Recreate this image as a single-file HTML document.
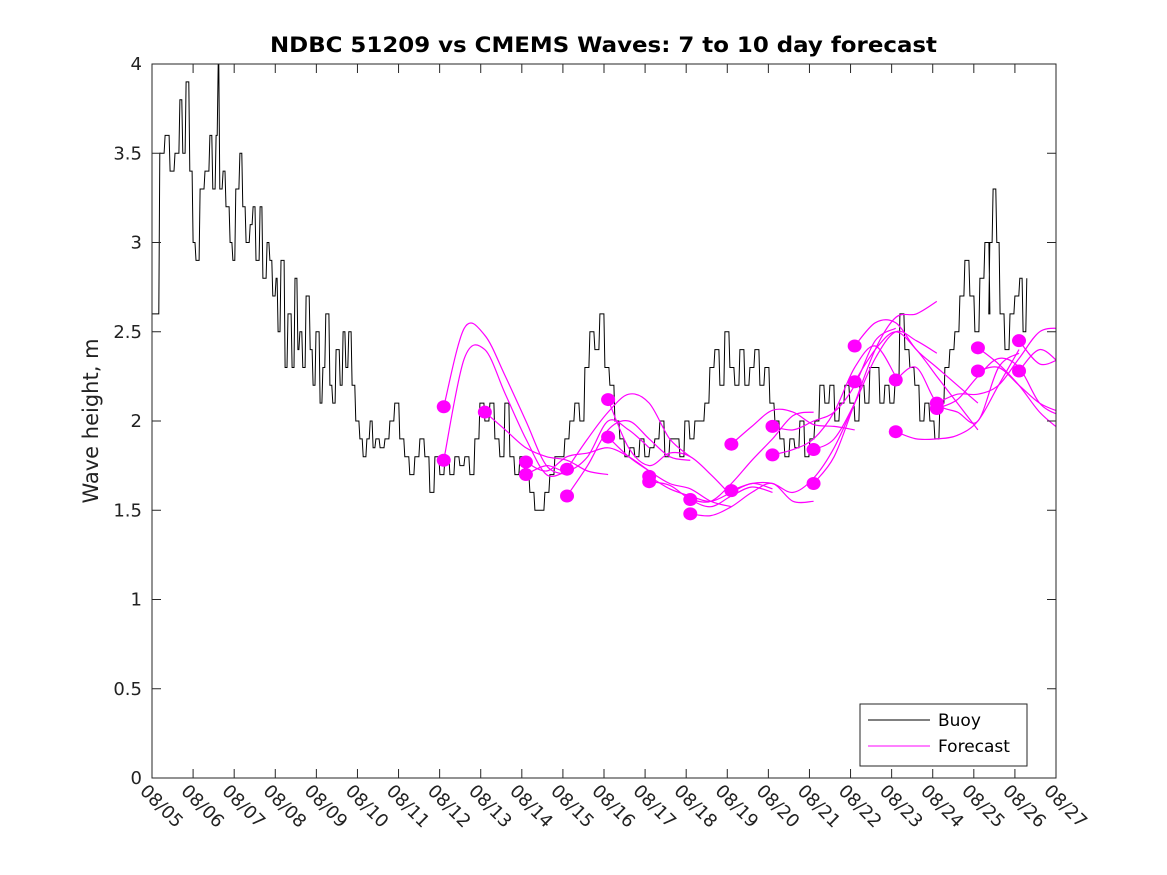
<!DOCTYPE html>
<html><head><meta charset="utf-8"><style>
html,body{margin:0;padding:0;background:#fff}
svg{display:block;font-family:"DejaVu Sans","Liberation Sans",sans-serif}
</style></head><body>
<svg id="chart" width="1167" height="875" viewBox="0 0 1167 875" xmlns="http://www.w3.org/2000/svg">
<rect x="0" y="0" width="1167" height="875" fill="#fff"/>
<text x="270" y="52" textLength="667" lengthAdjust="spacingAndGlyphs" font-size="21" font-weight="bold" fill="#000">NDBC 51209 vs CMEMS Waves: 7 to 10 day forecast</text>
<text transform="translate(98,421) rotate(-90)" text-anchor="middle" font-size="21" fill="#222">Wave height, m</text>
<defs><clipPath id="plotclip"><rect x="152" y="64" width="904" height="714"/></clipPath></defs>
<g id="series" clip-path="url(#plotclip)"></g>
<rect x="152" y="64" width="904" height="714" fill="none" stroke="#262626" stroke-width="1"/>
<g id="axes"></g>
<g>
<rect x="860" y="704" width="167" height="62" fill="#fff" stroke="#262626" stroke-width="1"/>
<line x1="868" y1="720" x2="930" y2="720" stroke="#000" stroke-width="1"/>
<text x="938" y="726" font-size="17" fill="#000">Buoy</text>
<line x1="868" y1="746" x2="930" y2="746" stroke="#ff00ff" stroke-width="1"/>
<text x="938" y="752" font-size="17" fill="#000">Forecast</text>
</g>
</svg>
<script>
const xTickLabels = ["08/05","08/06","08/07","08/08","08/09","08/10","08/11","08/12","08/13","08/14","08/15","08/16","08/17","08/18","08/19","08/20","08/21","08/22","08/23","08/24","08/25","08/26","08/27"];
const yTickLabels = ["0","0.5","1","1.5","2","2.5","3","3.5","4"];
const yTickValues = [0,0.5,1,1.5,2,2.5,3,3.5,4];
const buoyHeadDays = [0,0.19,0.32,0.44,0.56,0.68,0.75,0.83,0.92,1.00,1.07,1.17,1.29,1.41,1.48,1.56,1.61,1.65,1.73,1.80,1.90,1.97,2.04,2.14,2.21,2.29,2.39,2.46,2.53,2.63,2.70,2.80,2.87,2.94,3.02,3.07,3.14,3.24,3.31,3.41,3.48,3.55,3.60,3.67,3.75,3.85,3.92,3.99,4.09,4.16,4.23,4.33,4.40,4.48,4.58,4.65,4.72,4.79,4.87,4.96,5.06,5.14,5.23,5.31,5.38,5.45,5.55,5.67,5.79];
const buoyHeadValues = [2.6,3.5,3.6,3.4,3.5,3.8,3.5,3.9,3.4,3.0,2.9,3.3,3.4,3.6,3.3,3.6,4.0,3.3,3.4,3.2,3.0,2.9,3.3,3.5,3.2,3.0,3.1,3.2,2.9,3.2,2.8,3.0,2.9,2.7,2.8,2.5,2.9,2.3,2.6,2.3,2.8,2.4,2.5,2.3,2.7,2.4,2.2,2.5,2.1,2.3,2.6,2.2,2.1,2.4,2.2,2.5,2.3,2.5,2.2,2.0,1.9,1.8,1.9,2.0,1.85,1.9,1.85,1.9,2.0];
const buoyMidStartDay = 5.91;
const buoyMidStepDay = 0.1217;
const buoyMidValues = [2.1,1.9,1.8,1.7,1.8,1.9,1.8,1.6,1.8,1.7,1.8,1.7,1.8,1.75,1.8,1.7,1.9,2.1,2.0,2.1,1.9,1.8,2.1,1.8,1.7,1.8,1.7,1.6,1.5,1.5,1.6,1.7,1.8,1.8,1.9,2.0,2.1,2.0,2.3,2.5,2.4,2.6,2.3,2.2,2.0,1.9,1.8,1.85,1.8,1.9,1.8,1.85,1.9,2.0,1.8,1.9,1.9,1.8,2.0,1.9,2.0,2.0,2.1,2.3,2.4,2.2,2.5,2.3,2.2,2.4,2.2,2.3,2.4,2.2,2.3,2.1,2.0,1.9,1.8,1.9,1.85,2.0,1.8,1.9,2.0,2.2,2.1,2.2,2.0,2.1,2.2,2.1,2.0,2.2,2.1,2.3,2.3,2.1,2.2,2.1,2.2,2.6,2.4,2.3,2.2,2.0,2.1,2.0,1.9,2.1,2.3,2.4,2.5,2.7,2.9,2.7,2.5,2.8,3.0,2.6];
const buoyTailDays = [20.39,20.47,20.56,20.64,20.76,20.88,21.00,21.12,21.20,21.29];
const buoyTailValues = [3.0,3.3,3.0,2.6,2.4,2.6,2.7,2.8,2.5,2.8];
const forecastStartDays = [7.1,7.1,8.1,9.1,9.1,10.1,10.1,11.1,11.1,12.1,12.1,13.1,13.1,14.1,14.1,15.1,15.1,16.1,16.1,17.1,17.1,18.1,18.1,19.1,19.1,20.1,20.1,21.1,21.1];
const forecastValues = [
[2.08,2.52,2.48,2.25,2.0,1.75,1.7],
[1.78,2.35,2.40,2.15,1.9,1.70,1.72],
[2.05,1.95,1.85,1.80,1.78,1.72,1.70],
[1.77,1.72,1.80,1.82,1.85,1.80,1.72],
[1.70,1.75,1.72,1.80,2.0,1.95,1.85],
[1.73,1.90,2.05,2.15,2.1,1.9,1.8],
[1.58,1.75,1.95,2.0,1.90,1.80,1.78],
[2.12,1.85,1.75,1.82,1.80,1.70,1.58],
[1.91,1.80,1.72,1.65,1.62,1.55,1.52],
[1.69,1.62,1.58,1.55,1.60,1.65,1.62],
[1.66,1.64,1.56,1.52,1.58,1.63,1.60],
[1.56,1.55,1.65,1.78,1.90,2.03,2.05],
[1.48,1.47,1.52,1.60,1.65,1.55,1.55],
[1.87,1.97,2.06,2.05,1.98,1.97,1.95],
[1.61,1.65,1.65,1.60,1.68,1.85,2.10],
[1.97,1.95,2.00,2.05,2.20,2.45,2.52],
[1.81,1.84,1.90,2.05,2.30,2.42,2.25],
[1.84,1.90,2.10,2.35,2.50,2.45,2.38],
[1.65,1.80,2.10,2.40,2.58,2.60,2.67],
[2.42,2.55,2.55,2.40,2.30,2.20,2.10],
[2.22,2.40,2.50,2.40,2.25,2.10,1.95],
[2.23,2.30,2.10,2.05,2.00,2.30,2.38],
[1.94,1.90,1.90,1.92,2.00,2.20,2.40],
[2.10,2.15,2.15,2.20,2.35,2.50,2.52],
[2.07,2.12,2.25,2.35,2.30,2.10,2.03],
[2.41,2.32,2.20,2.05,1.95],
[2.28,2.30,2.20,2.10,2.05],
[2.45,2.32,2.35],
[2.28,2.40,2.32]
];
const NS="http://www.w3.org/2000/svg";
const X0=152,X1=1056,Y0=778,Y1=64,DMAX=22,VMAX=4;
function xs(d){return X0+(X1-X0)*d/DMAX;}
function ys(v){return Y0-(Y0-Y1)*v/VMAX;}
function mk(tag,attrs,parent){const e=document.createElementNS(NS,tag);for(const k in attrs)e.setAttribute(k,attrs[k]);parent.appendChild(e);return e;}
const axes=document.getElementById('axes');
const series=document.getElementById('series');
xTickLabels.forEach((lab,i)=>{
  const x=xs(i);
  if(i>0&&i<DMAX){
    const t1=mk('line',{x1:x,y1:Y0,x2:x,y2:Y0-9,stroke:'#262626'},axes);
    
    
    const t2=mk('line',{x1:x,y1:Y1,x2:x,y2:Y1+9,stroke:'#262626'},axes);
    
    
  }
  const t=mk('text',{x:0,y:0,transform:`translate(${x-13},${Y0+14}) rotate(45)`,'font-size':18,fill:'#222'},axes);
  t.textContent=lab;
  
  
});
yTickValues.forEach((v,i)=>{
  const y=ys(v);
  if(i>0&&i<yTickValues.length-1){
    const a=mk('line',{x1:X0,y1:y,x2:X0+9,y2:y,stroke:'#262626'},axes);
    
    
    const b=mk('line',{x1:X1,y1:y,x2:X1-9,y2:y,stroke:'#262626'},axes);
    
    
  }
  const t=mk('text',{x:X0-10,y:y+6,'text-anchor':'end','font-size':18,fill:'#222'},axes);
  t.textContent=yTickLabels[i];
  
  
});
const buoyPts=[];
buoyHeadDays.forEach((d,i)=>buoyPts.push([d,buoyHeadValues[i]]));
buoyMidValues.forEach((v,i)=>buoyPts.push([buoyMidStartDay+i*buoyMidStepDay,v]));
buoyTailDays.forEach((d,i)=>buoyPts.push([d,buoyTailValues[i]]));
let bp='';
buoyPts.forEach((p,i)=>{
  const x=xs(p[0]),y=ys(p[1]);
  if(i===0)bp+=`M${x.toFixed(1)},${y.toFixed(1)}`;
  else{const py=ys(buoyPts[i-1][1]);bp+=`L${(x-1).toFixed(1)},${py.toFixed(1)}L${x.toFixed(1)},${y.toFixed(1)}`;}
});
const buoy=mk('path',{d:bp,fill:'none',stroke:'#000','stroke-width':1},series);


function smooth(pts){
  let d=`M${pts[0][0]},${pts[0][1]}`;
  for(let i=0;i<pts.length-1;i++){
    const p0=pts[Math.max(0,i-1)],p1=pts[i],p2=pts[i+1],p3=pts[Math.min(pts.length-1,i+2)];
    const c1=[p1[0]+(p2[0]-p0[0])/6,p1[1]+(p2[1]-p0[1])/6];
    const c2=[p2[0]-(p3[0]-p1[0])/6,p2[1]-(p3[1]-p1[1])/6];
    d+=`C${c1[0].toFixed(1)},${c1[1].toFixed(1)} ${c2[0].toFixed(1)},${c2[1].toFixed(1)} ${p2[0].toFixed(1)},${p2[1].toFixed(1)}`;
  }
  return d;
}
forecastValues.forEach((vals,k)=>{
  const sd=forecastStartDays[k];
  const pts=vals.map((v,j)=>[xs(sd+j*0.5),ys(v)]);
  const p=mk('path',{d:smooth(pts),fill:'none',stroke:'#ff00ff','stroke-width':1.2},series);
  
  
});
forecastValues.forEach((vals,k)=>{
  const sd=forecastStartDays[k];
  const c=mk('ellipse',{cx:xs(sd),cy:ys(vals[0]),rx:7,ry:6.5,fill:'#ff00ff'},series);
  
  
});
</script>
</body></html>
